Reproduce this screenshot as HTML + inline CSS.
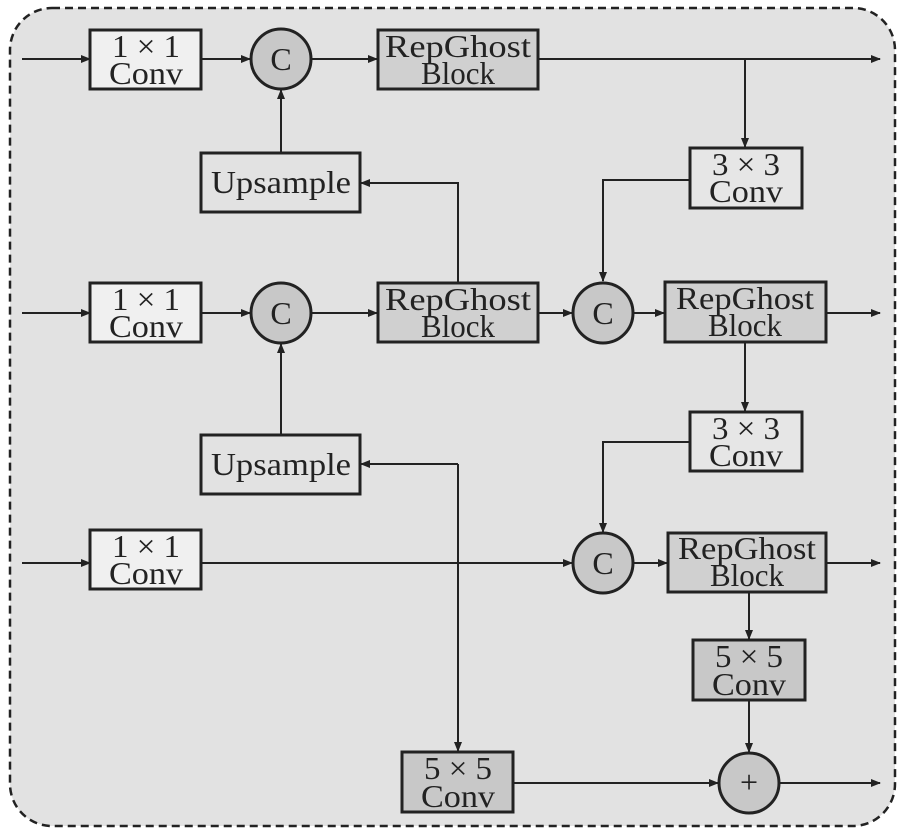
<!DOCTYPE html>
<html><head><style>body{margin:0;background:#fff}svg{display:block}text{font-family:"Liberation Serif",serif;font-size:32px;fill:#222;text-anchor:middle}</style></head><body>
<svg width="905" height="834" viewBox="0 0 905 834">
<defs><marker id="a" markerWidth="10" markerHeight="8" refX="9" refY="4" orient="auto" markerUnits="userSpaceOnUse"><path d="M0,0L10,4L0,8z" fill="#222"/></marker></defs>
<rect x="10" y="8" width="885" height="818" rx="42" fill="#e2e2e2" stroke="#222" stroke-width="2.5" stroke-dasharray="8,5"/>
<g stroke="#222" stroke-width="2" fill="none" marker-end="url(#a)">
<path d="M22,59H90"/><path d="M201,59H250"/><path d="M311,59H377"/><path d="M538,59H880"/>
<path d="M745,59V147"/><path d="M690,180H603V281"/>
<path d="M281,153V90"/><path d="M458,283V183H361"/>
<path d="M22,313H90"/><path d="M201,313H250"/><path d="M311,313H377"/><path d="M538,313H572"/><path d="M634,313H664"/><path d="M826,313H880"/>
<path d="M745,342V411"/><path d="M690,442H603V532"/>
<path d="M281,435V344"/><path d="M458,464H361"/><path d="M458,464V751"/>
<path d="M22,563H90"/><path d="M201,563H572"/><path d="M634,563H667"/><path d="M826,563H880"/>
<path d="M749,592V639"/><path d="M749,700V752"/>
<path d="M513,783H718"/><path d="M780,783H880"/>
</g>
<g stroke="#222" stroke-width="3">
<rect x="90" y="30" width="111" height="59" fill="#f0f0f0"/>
<rect x="378" y="30" width="160" height="59" fill="#d0d0d0"/>
<rect x="690" y="148" width="112" height="60" fill="#e6e6e6"/>
<rect x="201" y="153" width="159" height="59" fill="#e2e2e2"/>
<rect x="90" y="283" width="111" height="59" fill="#f0f0f0"/>
<rect x="378" y="283" width="160" height="59" fill="#d0d0d0"/>
<rect x="665" y="282" width="161" height="60" fill="#d0d0d0"/>
<rect x="690" y="412" width="112" height="59" fill="#e6e6e6"/>
<rect x="201" y="435" width="159" height="59" fill="#e2e2e2"/>
<rect x="90" y="530" width="111" height="59" fill="#f0f0f0"/>
<rect x="668" y="533" width="158" height="59" fill="#d0d0d0"/>
<rect x="693" y="640" width="112" height="60" fill="#c8c8c8"/>
<rect x="402" y="752" width="111" height="60" fill="#c8c8c8"/>
<circle cx="281" cy="59" r="30" fill="#c8c8c8"/>
<circle cx="281" cy="313" r="30" fill="#c8c8c8"/>
<circle cx="603" cy="313" r="30" fill="#c8c8c8"/>
<circle cx="603" cy="563" r="30" fill="#c8c8c8"/>
<circle cx="749" cy="783" r="30" fill="#c8c8c8"/>
</g>
<g>
<text x="146" y="57" textLength="68" lengthAdjust="spacingAndGlyphs">1 × 1</text><text x="146" y="84" textLength="74" lengthAdjust="spacingAndGlyphs">Conv</text>
<text x="458" y="57" textLength="146" lengthAdjust="spacingAndGlyphs">RepGhost</text><text x="458" y="84" textLength="74" lengthAdjust="spacingAndGlyphs">Block</text>
<text x="281" y="70">C</text>
<text x="746" y="175" textLength="68" lengthAdjust="spacingAndGlyphs">3 × 3</text><text x="746" y="202" textLength="74" lengthAdjust="spacingAndGlyphs">Conv</text>
<text x="281" y="193" textLength="140" lengthAdjust="spacingAndGlyphs">Upsample</text>
<text x="146" y="310" textLength="68" lengthAdjust="spacingAndGlyphs">1 × 1</text><text x="146" y="337" textLength="74" lengthAdjust="spacingAndGlyphs">Conv</text>
<text x="281" y="324">C</text>
<text x="458" y="310" textLength="146" lengthAdjust="spacingAndGlyphs">RepGhost</text><text x="458" y="337" textLength="74" lengthAdjust="spacingAndGlyphs">Block</text>
<text x="603" y="324">C</text>
<text x="745" y="309" textLength="138" lengthAdjust="spacingAndGlyphs">RepGhost</text><text x="745" y="336" textLength="74" lengthAdjust="spacingAndGlyphs">Block</text>
<text x="746" y="439" textLength="68" lengthAdjust="spacingAndGlyphs">3 × 3</text><text x="746" y="466" textLength="74" lengthAdjust="spacingAndGlyphs">Conv</text>
<text x="281" y="475" textLength="140" lengthAdjust="spacingAndGlyphs">Upsample</text>
<text x="146" y="557" textLength="68" lengthAdjust="spacingAndGlyphs">1 × 1</text><text x="146" y="584" textLength="74" lengthAdjust="spacingAndGlyphs">Conv</text>
<text x="603" y="574">C</text>
<text x="747" y="559" textLength="138" lengthAdjust="spacingAndGlyphs">RepGhost</text><text x="747" y="586" textLength="74" lengthAdjust="spacingAndGlyphs">Block</text>
<text x="749" y="667" textLength="68" lengthAdjust="spacingAndGlyphs">5 × 5</text><text x="749" y="695" textLength="74" lengthAdjust="spacingAndGlyphs">Conv</text>
<text x="458" y="779" textLength="68" lengthAdjust="spacingAndGlyphs">5 × 5</text><text x="458" y="807" textLength="74" lengthAdjust="spacingAndGlyphs">Conv</text>
<text x="749" y="793">+</text>
</g>
</svg>
</body></html>
